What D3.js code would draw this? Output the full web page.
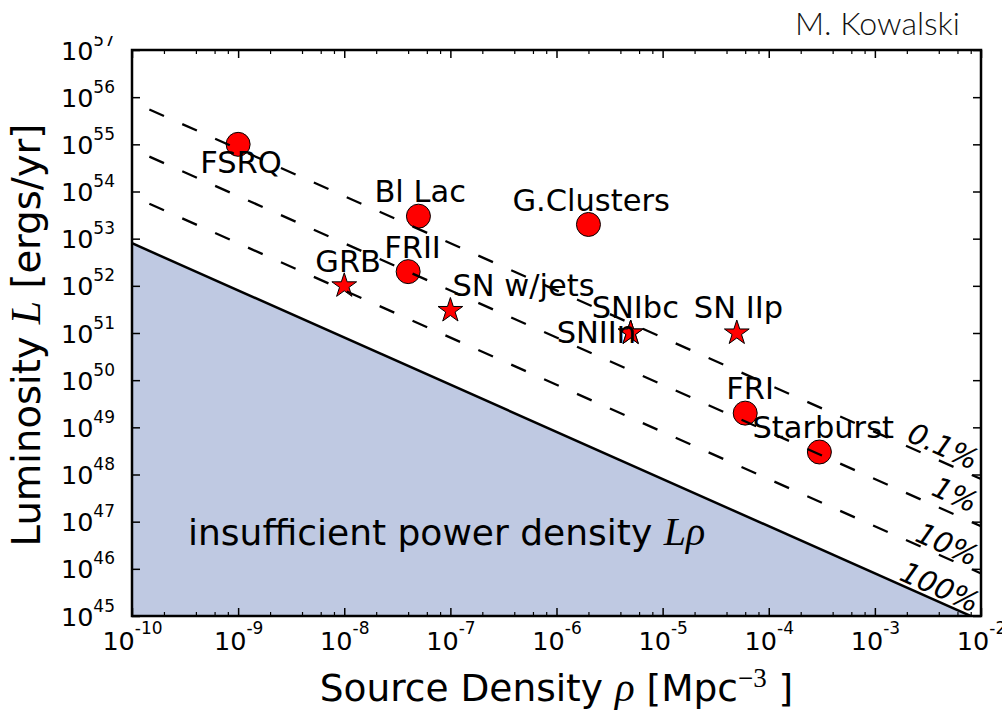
<!DOCTYPE html>
<html>
<head>
<meta charset="utf-8">
<script src="https://cdn.jsdelivr.net/npm/d3@7"></script>
<style>
  body { margin: 0; background: #fff; }
  svg { display: block; }
  text { font-family: "DejaVu Sans", sans-serif; fill: #000; }
</style>
</head>
<body>
<svg id="chart" width="1002" height="710"></svg>
<script>
// ---- Source classes: number density [Mpc^-3] and luminosity [erg/yr] ----
const sourceNames = ["FSRQ", "Bl Lac", "G.Clusters", "FRII", "GRB", "SN w/jets", "SNIbc", "SNIIn", "SN IIp", "FRI", "Starburst"];
const sourceDensity = [1e-9, 5e-8, 2e-6, 4e-8, 1e-8, 1e-7, 5e-6, 5e-6, 5e-5, 6e-5, 3e-4];
const sourceLuminosity = [1e55, 3e53, 2e53, 2e52, 1e52, 3e51, 1e51, 1e51, 1e51, 2e49, 3e48];
const sourceMarker = ["circle", "circle", "circle", "circle", "star", "star", "star", "star", "star", "circle", "circle"];

// ---- Lines of constant power density: L*rho = required / efficiency ----
const requiredPowerDensity = 8e42; // erg yr^-1 Mpc^-3
const efficiencies = [0.001, 0.01, 0.1, 1];
const efficiencyLabels = ["0.1%", "1%", "10%", "100%"];

// ---- Axis ticks (decade exponents) ----
const xTickExponents = [-10, -9, -8, -7, -6, -5, -4, -3, -2];
const yTickExponents = [45, 46, 47, 48, 49, 50, 51, 52, 53, 54, 55, 56, 57];
const minorMultipliers = [2, 4, 6, 8];

// ---- Layout ----
const plot = { left: 132, right: 981, top: 50, bottom: 616 };
// text offsets (px) of each source label: left edge and baseline relative to the marker
const labelOffsets = [[-38, 29], [-44, -14], [-76, -13], [-24, -14], [-29, -14], [2, -14],
                      [-39, -15], [-74, 10], [-43, -15], [-19, -14], [-67, -14]];
// efficiency labels: density at the label centre and vertical lift above the line
const efficiencyLabelRho = [4.4e-3, 5.7e-3, 4.8e-3, 4.1e-3];
const efficiencyLabelLift = [16, 20, 14, 15];

const svg = d3.select("#chart");
svg.append("rect").attr("width", 1002).attr("height", 710).attr("fill", "#fff");

const x = d3.scaleLog().domain([1e-10, 1e-2]).range([plot.left, plot.right]);
const y = d3.scaleLog().domain([1e45, 1e57]).range([plot.bottom, plot.top]);

const lumAt = (rho, eff) => requiredPowerDensity / eff / rho;

svg.append("defs").append("clipPath").attr("id", "plotClip")
  .append("rect")
  .attr("x", plot.left).attr("y", plot.top)
  .attr("width", plot.right - plot.left).attr("height", plot.bottom - plot.top);

const plotG = svg.append("g").attr("clip-path", "url(#plotClip)");
const rhoEnds = x.domain();

// shaded region below the 100% line
const area = d3.area()
  .x(d => x(d))
  .y0(plot.bottom)
  .y1(d => y(lumAt(d, 1)));
plotG.append("path").datum(rhoEnds)
  .attr("d", area)
  .attr("fill", "#bfc9e2");

plotG.append("text")
  .attr("x", 188).attr("y", 545)
  .attr("font-size", 36)
  .text("insufficient power density ")
  .append("tspan")
  .style("font-family", "'Liberation Serif', serif")
  .attr("font-style", "italic")
  .attr("font-size", 40)
  .text("Lρ");

// markers
const starSymbol = d3.symbol().type(d3.symbolStar).size(190);
sourceNames.forEach((name, i) => {
  const cx = x(sourceDensity[i]), cy = y(sourceLuminosity[i]);
  if (sourceMarker[i] === "circle") {
    plotG.append("circle").attr("cx", cx).attr("cy", cy).attr("r", 12)
      .attr("fill", "#ff0000").attr("stroke", "#000").attr("stroke-width", 1);
  } else {
    plotG.append("path").attr("d", starSymbol)
      .attr("transform", `translate(${cx},${cy})`)
      .attr("fill", "#ff0000").attr("stroke", "#000").attr("stroke-width", 1);
  }
});

// source labels
sourceNames.forEach((name, i) => {
  const cx = x(sourceDensity[i]), cy = y(sourceLuminosity[i]);
  plotG.append("text")
    .attr("x", cx + labelOffsets[i][0])
    .attr("y", cy + labelOffsets[i][1])
    .attr("font-size", 30.5)
    .text(name);
});

// constant power density lines
const line = d3.line().x(d => x(d.rho)).y(d => y(d.L));
efficiencies.forEach((eff, i) => {
  const pts = rhoEnds.map(rho => ({ rho, L: lumAt(rho, eff) }));
  const path = plotG.append("path").datum(pts)
    .attr("d", line)
    .attr("fill", "none")
    .attr("stroke", "#000");
  if (eff === 1) {
    path.attr("stroke-width", 2.5);
  } else {
    path.attr("stroke-width", 2.3)
      .attr("stroke-dasharray", "16,20")
      .attr("stroke-dashoffset", 17);
  }
});

// efficiency labels, rotated along the lines
const slopeDeg = Math.atan2(y(1e50) - y(1e51), x(1e-4) - x(1e-5)) * 180 / Math.PI;
efficiencies.forEach((eff, i) => {
  const rho = efficiencyLabelRho[i];
  const px = x(rho);
  const py = y(lumAt(rho, eff)) - efficiencyLabelLift[i];
  svg.append("text")
    .attr("transform", `translate(${px},${py}) rotate(${slopeDeg})`)
    .attr("text-anchor", "middle")
    .attr("dominant-baseline", "central")
    .attr("font-size", 29)
    .attr("font-style", "italic")
    .text(efficiencyLabels[i]);
});

// ---- axes ----
const xMajor = xTickExponents.map(e => Math.pow(10, e));
const yMajor = yTickExponents.map(e => Math.pow(10, e));
const xMinor = [];
xTickExponents.slice(0, -1).forEach(e => minorMultipliers.forEach(m => xMinor.push(m * Math.pow(10, e))));

function styleTicks(g, width) {
  g.select(".domain").remove();
  g.selectAll(".tick line").attr("stroke", "#000").attr("stroke-width", width);
  g.selectAll(".tick text").remove();
}

function addPowerLabel(sel, baseSize, supSize, supDy, minus) {
  sel.each(function (d) {
    const t = d3.select(this);
    const e = Math.round(Math.log10(d));
    t.append("tspan").text("10");
    t.append("tspan").attr("font-size", supSize).attr("dy", supDy)
      .text(e < 0 ? minus + Math.abs(e) : String(e));
  });
}

// bottom
const gxMinor = svg.append("g").attr("transform", `translate(0,${plot.bottom})`)
  .call(d3.axisBottom(x).tickValues(xMinor).tickSizeInner(-4).tickSizeOuter(0).tickFormat(() => ""));
styleTicks(gxMinor, 1.2);
const gx = svg.append("g").attr("transform", `translate(0,${plot.bottom})`)
  .call(d3.axisBottom(x).tickValues(xMajor).tickSizeInner(-8).tickSizeOuter(0).tickFormat(() => ""));
styleTicks(gx, 1.5);
gx.selectAll(".tick").append("text")
  .attr("y", 34).attr("text-anchor", "middle").attr("font-size", 25.5)
  .call(addPowerLabel, 25.5, 17, -16, "-");

// top (mirror)
const gtMinor = svg.append("g").attr("transform", `translate(0,${plot.top})`)
  .call(d3.axisTop(x).tickValues(xMinor).tickSizeInner(-4).tickSizeOuter(0).tickFormat(() => ""));
styleTicks(gtMinor, 1.2);
const gt = svg.append("g").attr("transform", `translate(0,${plot.top})`)
  .call(d3.axisTop(x).tickValues(xMajor).tickSizeInner(-8).tickSizeOuter(0).tickFormat(() => ""));
styleTicks(gt, 1.5);

// left
const gy = svg.append("g").attr("transform", `translate(${plot.left},0)`)
  .call(d3.axisLeft(y).tickValues(yMajor).tickSizeInner(-8).tickSizeOuter(0).tickFormat(() => ""));
styleTicks(gy, 1.5);
gy.selectAll(".tick").append("text")
  .attr("x", -17).attr("y", 9).attr("text-anchor", "end").attr("font-size", 25.5)
  .call(addPowerLabel, 25.5, 17, -14, "-");

// right (mirror)
const gr = svg.append("g").attr("transform", `translate(${plot.right},0)`)
  .call(d3.axisRight(y).tickValues(yMajor).tickSizeInner(-8).tickSizeOuter(0).tickFormat(() => ""));
styleTicks(gr, 1.5);

// frame
svg.append("rect")
  .attr("x", plot.left).attr("y", plot.top)
  .attr("width", plot.right - plot.left).attr("height", plot.bottom - plot.top)
  .attr("fill", "none").attr("stroke", "#000").attr("stroke-width", 2.5);

// top strip of the page (credit line area)
svg.append("rect").attr("x", 0).attr("y", 0).attr("width", 130).attr("height", 36).attr("fill", "#fff");

// axis titles
const yTitle = svg.append("text")
  .attr("transform", `translate(40,${(plot.top + plot.bottom) / 2 + 2}) rotate(-90)`)
  .attr("text-anchor", "middle")
  .attr("font-size", 38.5);
yTitle.append("tspan").text("Luminosity ");
yTitle.append("tspan").style("font-family", "'Liberation Serif', serif")
  .attr("font-style", "italic").attr("font-size", 42).text("L");
yTitle.append("tspan").text(" [ergs/yr]");

const xTitle = svg.append("text")
  .attr("x", (plot.left + plot.right) / 2).attr("y", 701)
  .attr("text-anchor", "middle")
  .attr("font-size", 37.5);
xTitle.append("tspan").text("Source Density ");
xTitle.append("tspan").style("font-family", "'Liberation Serif', serif")
  .attr("font-style", "italic").attr("font-size", 41).text("ρ");
xTitle.append("tspan").text(" [Mpc");
xTitle.append("tspan").style("font-family", "'Liberation Serif', serif")
  .attr("font-size", 27).attr("dy", -14).text("−3");
xTitle.append("tspan").attr("dy", 14).text(" ]");

// credit
svg.append("text")
  .attr("x", 795).attr("y", 35)
  .attr("font-size", 31)
  .attr("font-weight", 300)
  .attr("textLength", 165)
  .attr("lengthAdjust", "spacingAndGlyphs")
  .style("font-family", "Lato, 'Open Sans', sans-serif")
  .style("fill", "#111")
  .text("M. Kowalski");
</script>
</body>
</html>
